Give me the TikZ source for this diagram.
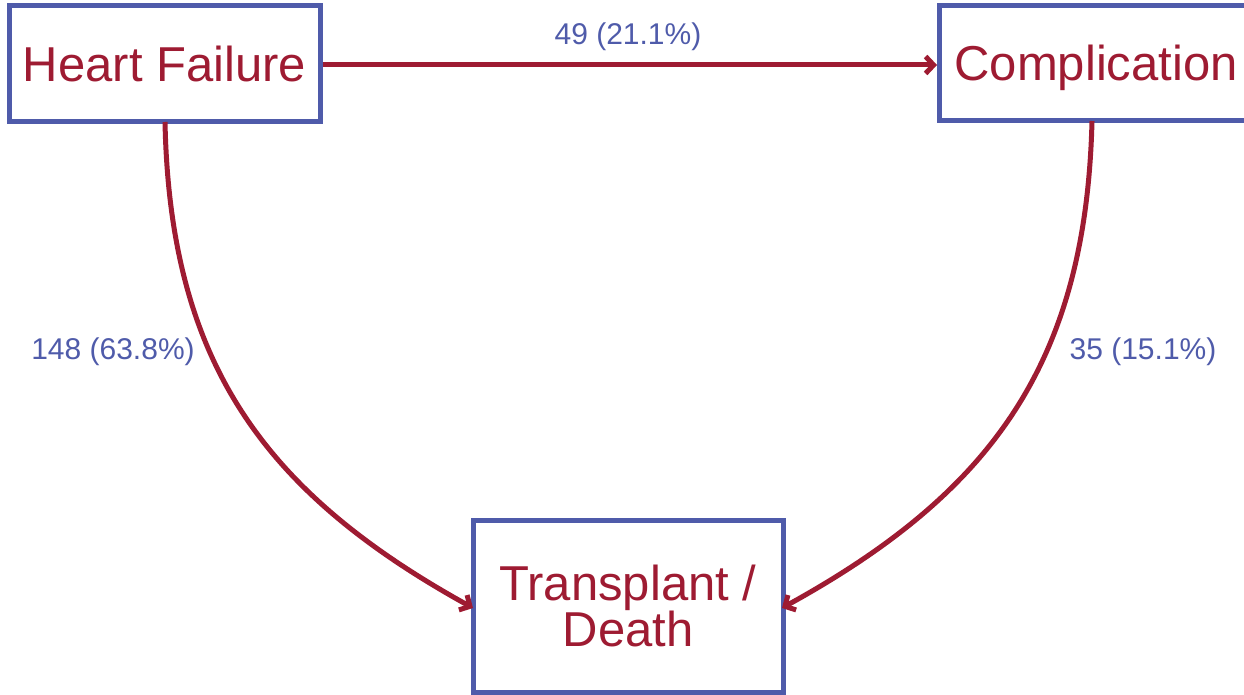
\documentclass[tikz,border=0pt]{standalone}
\usepackage{fontspec}
\setmainfont{Liberation Sans}
\usetikzlibrary{arrows.meta}
\definecolor{crim}{HTML}{9E1B32}
\definecolor{bl}{HTML}{4F5BAA}
\tikzset{
  box/.style={draw=bl, line width=5pt, text=crim, inner sep=0pt, align=center,
    font=\fontsize{49}{52}\selectfont},
  onebox/.style={box, text height=35pt, text depth=0pt},
  flow/.style={draw=crim, line width=5pt, -{Straight Barb[length=8pt,width=17pt]}},
  lab/.style={text=bl, font=\fontsize{30}{34}\selectfont}
}
\begin{document}
\begin{tikzpicture}[x=1pt,y=-1pt]
\useasboundingbox (0,0) rectangle (1244,695);
\node[onebox, minimum width=311pt, minimum height=116pt] (hf) at (164.5,64) {Heart Failure};
\node[onebox, minimum height=115pt, inner xsep=15pt, anchor=west] (co) at (937,63.5) {Complication};
\node[box, minimum width=310pt, minimum height=172pt] (td) at (628,606) {Transplant /\\[-6pt]Death};
\coordinate (hfb) at (165,122);
\coordinate (cob) at (1092,121);
\coordinate (tdl) at (473,608);
\coordinate (tdr) at (782,608);
\draw[flow] (hf.east |- 0,65) -- (co.west |- 0,65);
\draw[flow] (hfb) .. controls (170,362) and (263,492) .. (tdl);
\draw[flow] (cob) .. controls (1086,362) and (993,492) .. (tdr);
\node[lab] (l1) at (628,37) {49 (21.1\%)};
\node[lab] (l2) at (113,352) {148 (63.8\%)};
\node[lab] (l3) at (1143,352) {35 (15.1\%)};
\end{tikzpicture}
\end{document}
